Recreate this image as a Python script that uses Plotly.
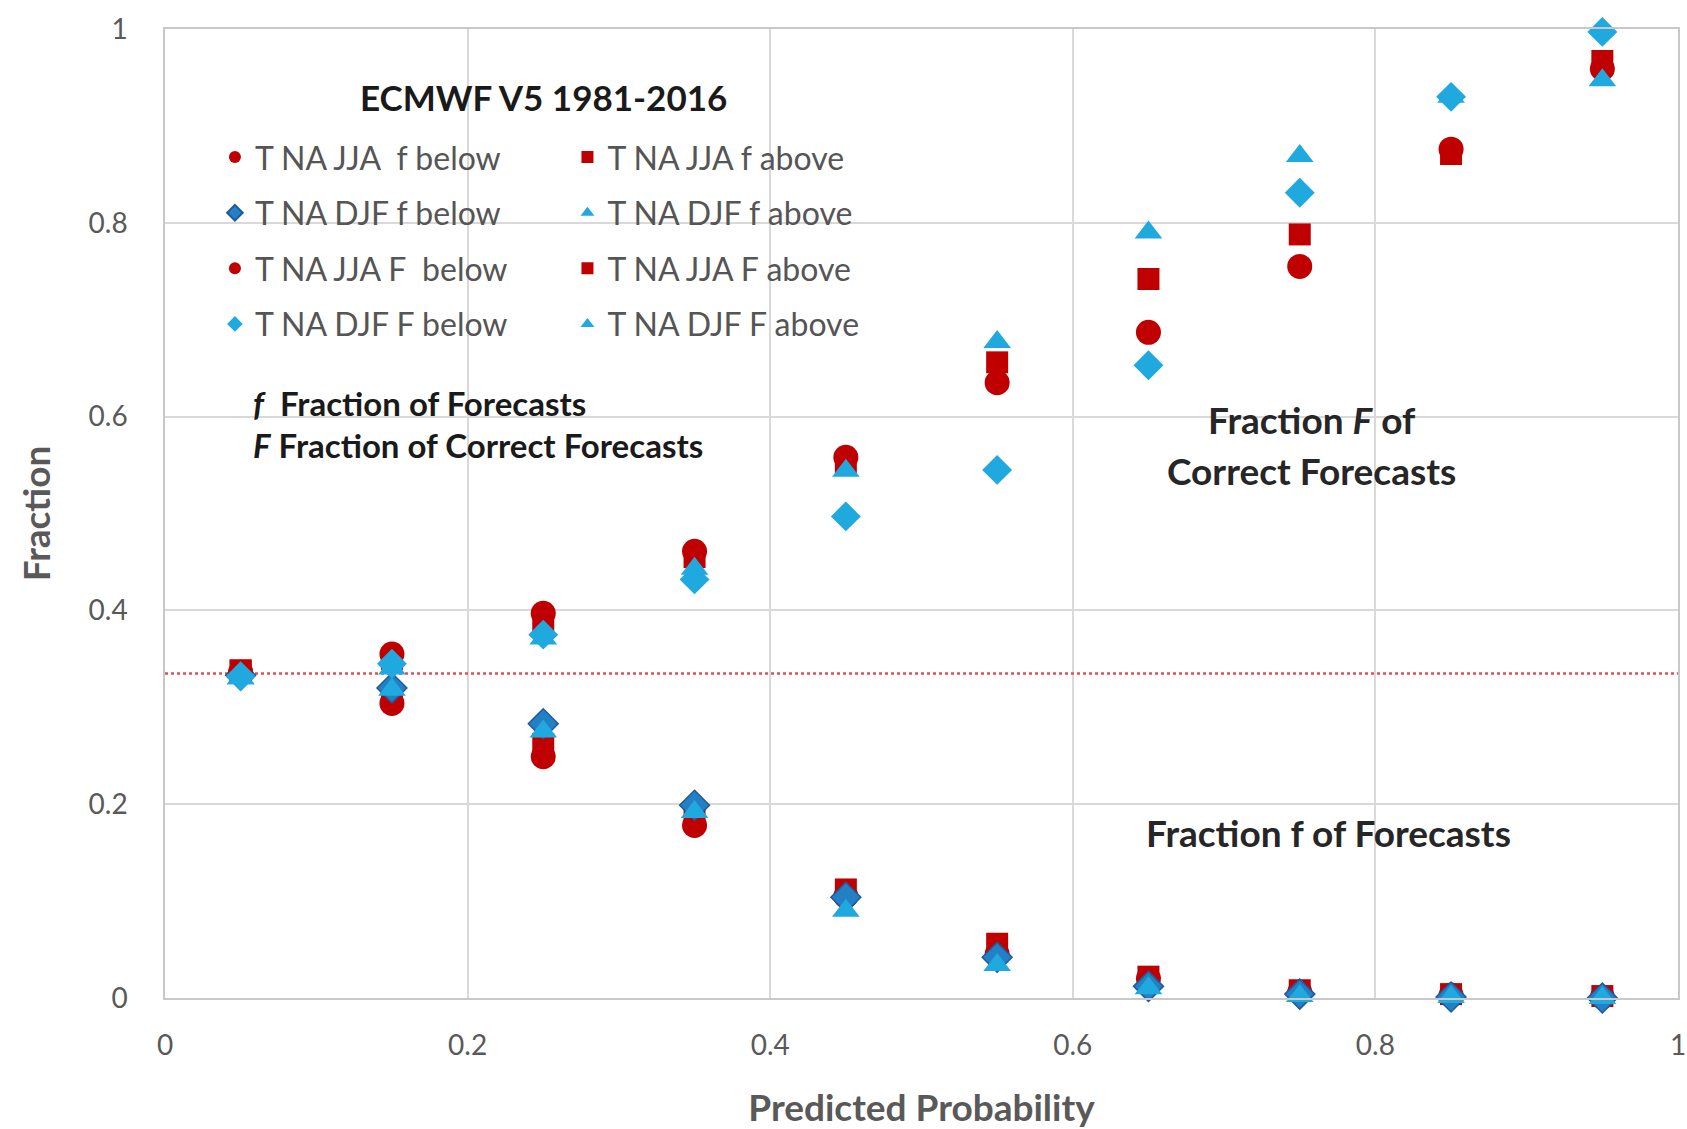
import plotly.graph_objects as go

# ---- data ----
prob = [0.05, 0.15, 0.25, 0.35, 0.45, 0.55, 0.65, 0.75, 0.85, 0.95]

jja_f_below = [0.335, 0.304, 0.249, 0.178, 0.105, 0.045, 0.020, 0.006, 0.003, 0.001]
jja_f_above = [0.338, 0.310, 0.262, 0.185, 0.112, 0.056, 0.022, 0.008, 0.004, 0.002]
djf_f_below = [0.333, 0.320, 0.283, 0.199, 0.104, 0.042, 0.012, 0.004, 0.001, 0.000]
djf_f_above = [0.330, 0.318, 0.275, 0.192, 0.090, 0.034, 0.010, 0.002, 0.001, 0.000]

jja_F_below = [0.336, 0.355, 0.397, 0.461, 0.558, 0.635, 0.687, 0.755, 0.876, 0.959]
jja_F_above = [0.338, 0.350, 0.390, 0.455, 0.553, 0.656, 0.742, 0.788, 0.871, 0.967]
djf_F_below = [0.332, 0.345, 0.375, 0.432, 0.497, 0.545, 0.653, 0.831, 0.930, 0.997]
djf_F_above = [0.330, 0.340, 0.371, 0.443, 0.544, 0.677, 0.790, 0.869, 0.930, 0.947]

climatology_x = [0.0, 1.0]
climatology_y = [0.335, 0.335]

x_ticks = [0, 0.2, 0.4, 0.6, 0.8, 1]
x_tick_labels = ["0", "0.2", "0.4", "0.6", "0.8", "1"]
y_ticks = [0, 0.2, 0.4, 0.6, 0.8, 1]
y_tick_labels = ["0", "0.2", "0.4", "0.6", "0.8", "1"]

RED = "#C00000"
LBLUE = "#1FA9DF"
DBLUE = "#2380C4"
GRAY = "#595959"
FONT = "Lato, 'Open Sans', sans-serif"

fig = go.Figure()

fig.add_trace(go.Scatter(x=climatology_x, y=climatology_y, mode="lines",
                         line=dict(color="#E0505A", width=2.5, dash="dot"),
                         showlegend=False, hoverinfo="skip"))

series = [
    ("T NA JJA  f below", jja_f_below, "circle", RED, 25, "legend", None),
    ("T NA JJA f above", jja_f_above, "square", RED, 22, "legend2", None),
    ("T NA DJF f below", djf_f_below, "diamond", DBLUE, 23, "legend", "#1F5A9A"),
    ("T NA DJF f above", djf_f_above, "triangle-up", LBLUE, 24, "legend2", None),
    ("T NA JJA F  below", jja_F_below, "circle", RED, 25, "legend", None),
    ("T NA JJA F above", jja_F_above, "square", RED, 22, "legend2", None),
    ("T NA DJF F below", djf_F_below, "diamond", LBLUE, 23, "legend", None),
    ("T NA DJF F above", djf_F_above, "triangle-up", LBLUE, 24, "legend2", None),
]

for i, (name, vals, sym, col, size, leg, lcol) in enumerate(series):
    fig.add_trace(go.Scatter(
        x=prob, y=vals, mode="markers", name=name,
        marker=dict(symbol=sym, color=col, size=size,
                    line=dict(color=lcol if lcol else col, width=1.5 if lcol else 0)),
        legend=leg, legendgroup="g%d" % i, cliponaxis=False))

legend_common = dict(
    bgcolor="rgba(0,0,0,0)", borderwidth=0,
    font=dict(family=FONT, size=32, color="#555555"),
    itemsizing="constant", tracegroupgap=11,
    xanchor="left", yanchor="top", traceorder="grouped",
)

fig.update_layout(
    width=1687, height=1129,
    margin=dict(l=165, r=9, t=29, b=131),
    paper_bgcolor="white", plot_bgcolor="white",
    font=dict(family=FONT, color=GRAY),
    legend=dict(x=0.033, y=0.896, **legend_common),
    legend2=dict(x=0.266, y=0.896, **legend_common),
    xaxis=dict(range=[0, 1], tickvals=x_ticks, ticktext=x_tick_labels,
               showgrid=True, gridcolor="#D9D9D9", gridwidth=1.5,
               showline=True, linecolor="#C8C8C8", linewidth=1.5, mirror=True,
               zeroline=False, ticks="", tickfont=dict(size=28, color=GRAY),
               ticklabelstandoff=22, automargin=False,
               title=dict(text="<b>Predicted Probability</b>",
                          font=dict(size=37, color=GRAY), standoff=37)),
    yaxis=dict(range=[0, 1], tickvals=y_ticks, ticktext=y_tick_labels,
               showgrid=True, gridcolor="#D9D9D9", gridwidth=1.5,
               showline=True, linecolor="#C8C8C8", linewidth=1.5, mirror=True,
               zeroline=False, ticks="", tickfont=dict(size=28, color=GRAY),
               ticklabelstandoff=30, automargin=False,
               title=dict(text="<b>Fraction</b>",
                          font=dict(size=37, color=GRAY), standoff=27)),
)

annots = [
    dict(x=0.25, y=0.93, text="<b>ECMWF V5 1981-2016</b>", size=35, color="#1a1a1a", xanchor="center"),
    dict(x=0.057, y=0.614, text="<b><i>f</i>  Fraction of Forecasts</b>", size=33, color="#1a1a1a", xanchor="left"),
    dict(x=0.057, y=0.571, text="<b><i>F</i> Fraction of Correct Forecasts</b>", size=33, color="#1a1a1a", xanchor="left"),
    dict(x=0.758, y=0.597, text="<b>Fraction <i>F</i> of</b>", size=37, color="#262626", xanchor="center"),
    dict(x=0.758, y=0.544, text="<b>Correct Forecasts</b>", size=37, color="#262626", xanchor="center"),
    dict(x=0.769, y=0.171, text="<b>Fraction f of Forecasts</b>", size=37, color="#262626", xanchor="center"),
]
for a in annots:
    fig.add_annotation(x=a["x"], y=a["y"], xref="paper", yref="paper",
                       text=a["text"], showarrow=False, xanchor=a["xanchor"], yanchor="middle",
                       font=dict(family=FONT, size=a["size"], color=a["color"]))

fig.write_html("out.html")
